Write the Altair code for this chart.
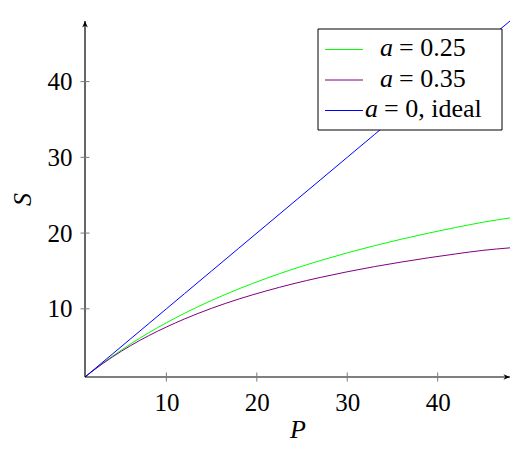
import altair as alt
import pandas as pd

# ---- data ----
P = [1, 2, 4, 6, 8, 10, 12, 15, 18, 21, 24, 27, 30, 33, 36, 39, 42, 45, 48]
S_a025 = [1.0, 1.95, 3.72, 5.33, 6.81, 8.16, 9.41, 11.11, 12.63, 14.0, 15.24,
          16.36, 17.39, 18.33, 19.2, 20.0, 20.74, 21.43, 22.0]
S_a035 = [1.0, 1.93, 3.62, 5.11, 6.43, 7.6, 8.66, 10.07, 11.29, 12.35, 13.3,
          14.14, 14.89, 15.57, 16.18, 16.74, 17.25, 17.72, 18.05]
S_ideal = [1, 2, 4, 6, 8, 10, 12, 15, 18, 21, 24, 27, 30, 33, 36, 39, 42, 45, 48]

series_names = ["a = 0.25", "a = 0.35", "a = 0, ideal"]
legend_rest = ["= 0.25", "= 0.35", "= 0, ideal"]
colors = ["#00ff00", "#800080", "#0000ff"]
x_ticks = [10, 20, 30, 40]
y_ticks = [10, 20, 30, 40]
x_range = [1, 48]
y_range = [1, 48]

FONT = "Liberation Serif, Times New Roman, serif"
FS = 25

rows = []
for name, vals in zip(series_names, [S_a025, S_a035, S_ideal]):
    for p, s in zip(P, vals):
        rows.append({"P": p, "S": s, "series": name})
df = pd.DataFrame(rows)

xscale = alt.Scale(domain=x_range, nice=False, zero=False)
yscale = alt.Scale(domain=y_range, nice=False, zero=False)

axis_common = dict(domain=False, ticks=False, tickSize=0, grid=False,
                   labelFont=FONT, labelFontSize=FS, labelColor="black",
                   titleFont=FONT, titleFontSize=FS + 1, titleFontStyle="italic",
                   titleFontWeight="normal", titleColor="black", labelPadding=13)

lines = alt.Chart(df).mark_line(strokeWidth=1, interpolate="monotone").encode(
    x=alt.X("P:Q", scale=xscale,
            axis=alt.Axis(values=x_ticks, title="P", titlePadding=1, **axis_common)),
    y=alt.Y("S:Q", scale=yscale,
            axis=alt.Axis(values=y_ticks, title="S", titlePadding=12, **axis_common)),
    color=alt.Color("series:N", scale=alt.Scale(domain=series_names, range=colors),
                    legend=None),
)

# axis lines
xaxis_df = pd.DataFrame({"x": [x_range[0]], "x2": [x_range[1]], "y": [y_range[0]]})
yaxis_df = pd.DataFrame({"x": [x_range[0]], "y": [y_range[0]], "y2": [y_range[1]]})
xaxis_line = alt.Chart(xaxis_df).mark_rule(color="black", strokeWidth=1.2).encode(
    x=alt.X("x:Q", scale=xscale), x2="x2:Q", y=alt.Y("y:Q", scale=yscale))
yaxis_line = alt.Chart(yaxis_df).mark_rule(color="black", strokeWidth=1.2).encode(
    x=alt.X("x:Q", scale=xscale), y=alt.Y("y:Q", scale=yscale), y2="y2:Q")

# arrow heads
arrow_right = "M0,0 L-2.2,-0.95 L-1.5,0 L-2.2,0.95 Z"
arrow_up = "M0,0 L-0.95,2.2 L0,1.5 L0.95,2.2 Z"
xarrow = alt.Chart(pd.DataFrame({"x": [x_range[1]], "y": [y_range[0]]})).mark_point(
    shape=arrow_right, filled=True, size=36, color="black", opacity=1).encode(
    x=alt.X("x:Q", scale=xscale), y=alt.Y("y:Q", scale=yscale))
yarrow = alt.Chart(pd.DataFrame({"x": [x_range[0]], "y": [y_range[1]]})).mark_point(
    shape=arrow_up, filled=True, size=36, color="black", opacity=1).encode(
    x=alt.X("x:Q", scale=xscale), y=alt.Y("y:Q", scale=yscale))

# tick marks crossing the axes
xt = alt.Chart(pd.DataFrame({"x": x_ticks, "y": [y_range[0]] * len(x_ticks)})).mark_tick(
    orient="vertical", size=9, thickness=1, color="#7a7a7a", opacity=1).encode(
    x=alt.X("x:Q", scale=xscale), y=alt.Y("y:Q", scale=yscale))
yt = alt.Chart(pd.DataFrame({"y": y_ticks, "x": [x_range[0]] * len(y_ticks)})).mark_tick(
    orient="horizontal", size=9, thickness=1, color="#7a7a7a", opacity=1).encode(
    x=alt.X("x:Q", scale=xscale), y=alt.Y("y:Q", scale=yscale))

# legend (drawn by hand so "a" can be italic)
dummy = pd.DataFrame({"k": [0]})
leg_box = alt.Chart(dummy).mark_rect(fill="white", stroke="black", strokeWidth=1).encode(
    x=alt.value(233), x2=alt.value(417), y=alt.value(8), y2=alt.value(109))
layers = [lines, xaxis_line, yaxis_line, xt, yt, xarrow, yarrow, leg_box]

sample_y = [28.5, 59, 89.5]
text_y = [35, 65.5, 96]
a_right = [308, 308, 293]
rest_left = [314, 314, 299]
for i in range(3):
    layers.append(alt.Chart(dummy).mark_rule(color=colors[i], strokeWidth=1).encode(
        x=alt.value(240), x2=alt.value(278), y=alt.value(sample_y[i])))
    layers.append(alt.Chart(dummy).mark_text(
        text="a", font=FONT, fontSize=FS + 1, fontStyle="italic", align="right",
        baseline="alphabetic", color="black").encode(
        x=alt.value(a_right[i]), y=alt.value(text_y[i])))
    layers.append(alt.Chart(dummy).mark_text(
        text=legend_rest[i], font=FONT, fontSize=FS + 1, align="left",
        baseline="alphabetic", color="black").encode(
        x=alt.value(rest_left[i]), y=alt.value(text_y[i])))

chart = alt.layer(*layers).properties(
    width=425, height=356,
    autosize=alt.AutoSizeParams(type="none"),
    padding={"left": 77, "top": 13, "right": 12, "bottom": 76},
).configure_view(stroke=None)

chart.save("out.html", embed_options={"renderer": "svg", "actions": False})
